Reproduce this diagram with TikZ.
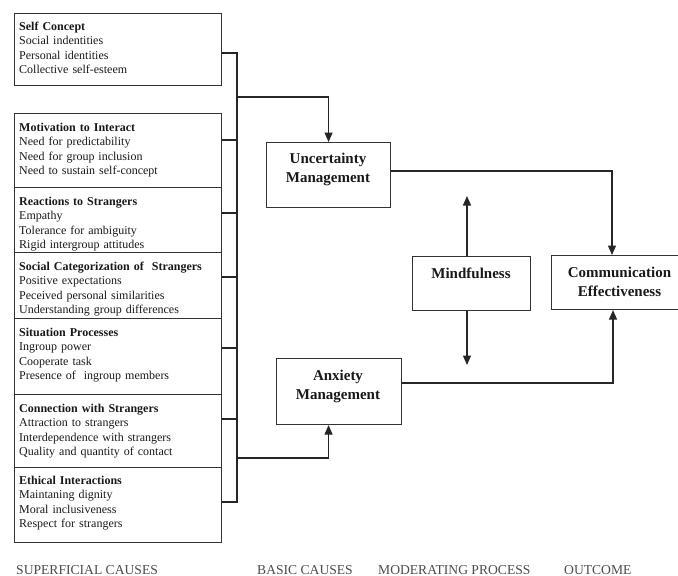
\documentclass[tikz,border=0pt]{standalone}
\usepackage{fontspec}
\setmainfont{Liberation Serif}
\usetikzlibrary{arrows.meta}
\begin{document}
\begin{tikzpicture}[x=1pt,y=-1pt,
  box/.style={draw=black!80, line width=1.1pt, inner sep=0pt, rectangle, anchor=north west},
  lbox/.style={box, minimum width=207pt},
  ltext/.style={anchor=base west, inner sep=0pt, text width=200pt, align=left, font=\fontsize{12}{14.5}\selectfont, text=black!90},
  ctext/.style={anchor=base, inner sep=0pt, text width=140pt, align=center, font=\fontsize{15}{19}\selectfont\bfseries, text=black!90},
  conn/.style={draw=black!85, line width=1.2pt},
  arr/.style={conn, -{Triangle[length=9.5pt,width=8pt]}},
  foot/.style={anchor=base west, inner sep=0pt, font=\fontsize{13.6}{16}\selectfont, text=black!70}]
\useasboundingbox (0,0) rectangle (678,576);

% left boxes
\node[lbox, minimum height=72pt] (sc)  at (14,13)  {};
\node[lbox, minimum height=74pt] (mot) at (14,113) {};
\node[lbox, minimum height=65pt] (rea) at (14,187) {};
\node[lbox, minimum height=66pt] (soc) at (14,252) {};
\node[lbox, minimum height=76pt] (sit) at (14,318) {};
\node[lbox, minimum height=73pt] (con) at (14,394) {};
\node[lbox, minimum height=75pt] (eth) at (14,467) {};

\node[ltext] (sct)  at (19,30)  {\textbf{Self Concept}\\Social indentities\\Personal identities\\Collective self-esteem};
\node[ltext] (mott) at (19,131) {\textbf{Motivation to Interact}\\Need for predictability\\Need for group inclusion\\Need to sustain self-concept};
\node[ltext] (reat) at (19,205) {\textbf{Reactions to Strangers}\\Empathy\\Tolerance for ambiguity\\Rigid intergroup attitudes};
\node[ltext] (soct) at (19,270) {\textbf{Social Categorization of\ \ Strangers}\\Positive expectations\\Peceived personal similarities\\Understanding group differences};
\node[ltext] (sitt) at (19,336) {\textbf{Situation Processes}\\Ingroup power\\Cooperate task\\Presence of\ \ ingroup members};
\node[ltext] (cont) at (19,412) {\textbf{Connection with Strangers}\\Attraction to strangers\\Interdependence with strangers\\Quality and quantity of contact};
\node[ltext] (etht) at (19,484) {\textbf{Ethical Interactions}\\Maintaning dignity\\Moral inclusiveness\\Respect for strangers};

% central boxes
\node[box, minimum width=124pt, minimum height=65pt] (unc)  at (266,142) {};
\node[box, minimum width=118pt, minimum height=54pt] (mind) at (412,256) {};
\node[box, minimum width=129pt, minimum height=54pt] (com)  at (551,255) {};
\node[box, minimum width=125pt, minimum height=66pt] (anx)  at (276,358) {};

\node[ctext] (unct)  at (328,163)   {Uncertainty\\Management};
\node[ctext] (mindt) at (471,278)   {Mindfulness};
\node[ctext] (comt)  at (619.5,277) {Communication\\Effectiveness};
\node[ctext] (anxt)  at (338,380)   {Anxiety\\Management};

% bus
\coordinate (b1) at (237,53);
\coordinate (b2) at (237,140);
\coordinate (b3) at (237,213);
\coordinate (b4) at (237,277);
\coordinate (b5) at (237,348);
\coordinate (b6) at (237,419);
\coordinate (b7) at (237,502);
\coordinate (bu) at (237,97);
\coordinate (ba) at (237,458);
\draw[conn] (b1 -| sc.east) -- (b1) -- (b7) -- (b7 -| eth.east);
\draw[conn] (b2 -| mot.east) -- (b2);
\draw[conn] (b3 -| rea.east) -- (b3);
\draw[conn] (b4 -| soc.east) -- (b4);
\draw[conn] (b5 -| sit.east) -- (b5);
\draw[conn] (b6 -| con.east) -- (b6);
\draw[arr] (bu) -| (unc.north);
\draw[arr] (ba) -| (anx.south -| unc.north);

% to outcome
\coordinate (cu) at (612,171);
\coordinate (ca) at (613,383);
\draw[arr] (cu -| unc.east) -- (cu) -- (cu |- com.north);
\draw[arr] (ca -| anx.east) -- (ca) -- (ca |- com.south);

% mindfulness arrows
\coordinate (mup) at (467,196);
\coordinate (mdn) at (467,365);
\draw[arr] (mind.north -| mup) -- (mup);
\draw[arr] (mind.south -| mdn) -- (mdn);

% footer labels
\node[foot] (f1) at (16,574)  {SUPERFICIAL CAUSES};
\node[foot] (f2) at (257,574) {BASIC CAUSES};
\node[foot] (f3) at (378,574) {MODERATING PROCESS};
\node[foot] (f4) at (564,574) {OUTCOME};
\end{tikzpicture}
\end{document}
